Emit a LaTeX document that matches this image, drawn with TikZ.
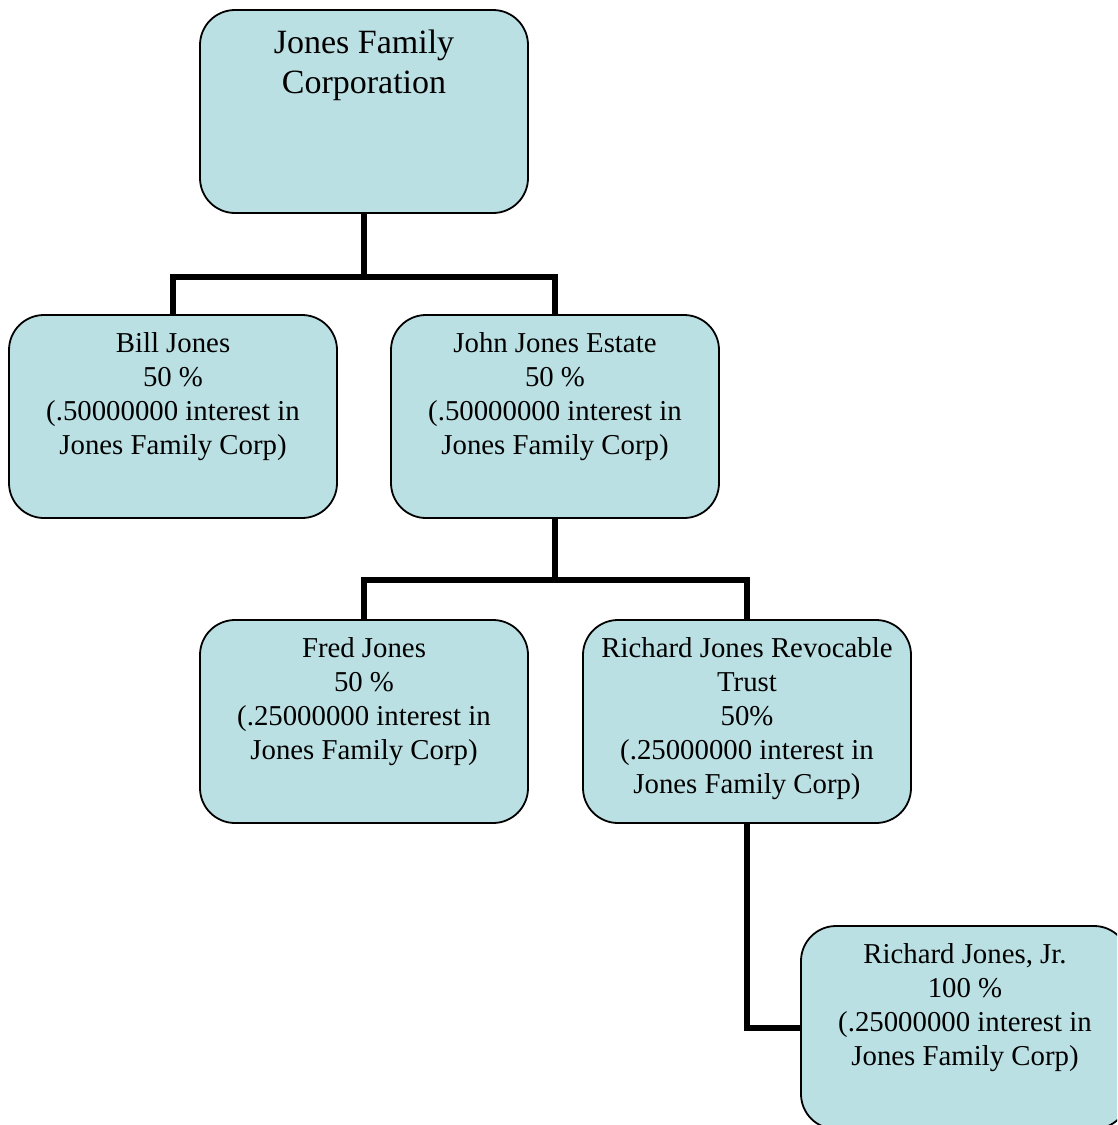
\documentclass[tikz,border=0pt]{standalone}
\usepackage{fontspec}
\setmainfont{Liberation Serif}
\definecolor{boxblue}{RGB}{187,224,227}
\begin{document}
\begin{tikzpicture}[x=1pt,y=-1pt,
  box/.style={draw=black,line width=1.8pt,fill=boxblue,rounded corners=35pt,minimum width=328pt,minimum height=203pt,inner sep=0pt},
  conn/.style={line width=6pt,draw=black},
  lbl/.style={anchor=north,align=center,inner sep=0pt,font=\fontsize{28.8}{34}\selectfont},
  biglbl/.style={anchor=north,align=center,inner sep=0pt,font=\fontsize{34}{40}\selectfont}]
\useasboundingbox (0,0) rectangle (1117,1125);
\clip (0,0) rectangle (1117,1125);
\coordinate (j1) at (364,277);
\coordinate (j2) at (555,580);
\node[box] (top) at (364,111.5) {};
\node[box] (bill) at (173,416.5) {};
\node[box] (john) at (555,416.5) {};
\node[box] (fred) at (364,721.5) {};
\node[box] (trust) at (747,721.5) {};
\node[box] (jr) at (965,1027.5) {};
\draw[conn] (top.south) -- (j1);
\draw[conn] (bill.north) |- (j1) -| (john.north);
\draw[conn] (john.south) -- (j2);
\draw[conn] (fred.north) |- (j2) -| (trust.north);
\draw[conn] (trust.south) |- (jr.west);
\node[biglbl] (toptxt) at ([yshift=-16pt]top.north) {\strut Jones Family\\Corporation};
\node[lbl] (billtxt) at ([yshift=-14.2pt]bill.north) {\strut Bill Jones\\50 \%\\(.50000000 interest in\\Jones Family Corp)};
\node[lbl] (johntxt) at ([yshift=-14.2pt]john.north) {\strut John Jones Estate\\50 \%\\(.50000000 interest in\\Jones Family Corp)};
\node[lbl] (fredtxt) at ([yshift=-14.2pt]fred.north) {\strut Fred Jones\\50 \%\\(.25000000 interest in\\Jones Family Corp)};
\node[lbl] (trusttxt) at ([yshift=-14.2pt]trust.north) {\strut Richard Jones Revocable\\Trust\\50\%\\(.25000000 interest in\\Jones Family Corp)};
\node[lbl] (jrtxt) at ([yshift=-14.2pt]jr.north) {\strut Richard Jones, Jr.\\100 \%\\(.25000000 interest in\\Jones Family Corp)};
\end{tikzpicture}
\end{document}
